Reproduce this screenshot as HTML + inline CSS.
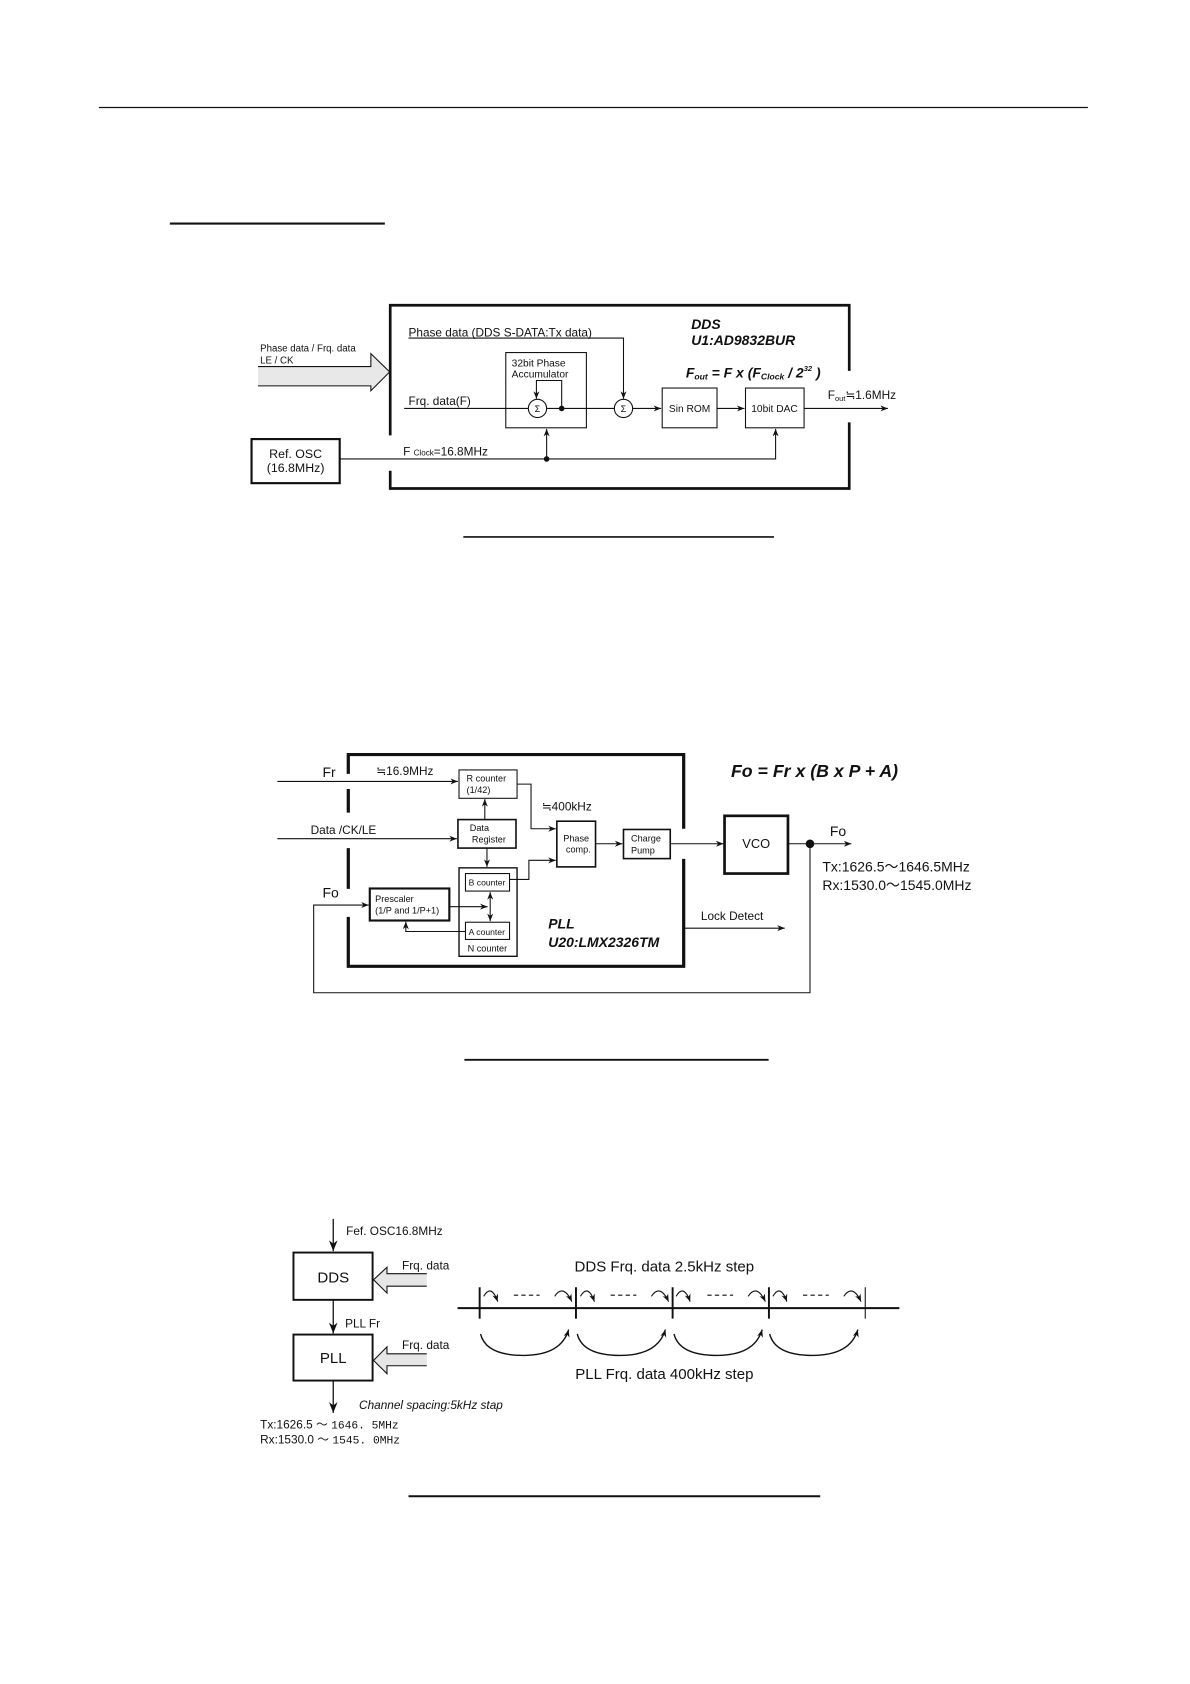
<!DOCTYPE html>
<html><head><meta charset="utf-8"><style>
html,body{margin:0;padding:0;background:#fff}
svg{display:block}
text{font-family:"Liberation Sans",Arial,sans-serif;fill:#111}
.bi{font-weight:bold;font-style:italic}
</style></head><body>
<svg width="1190" height="1684" viewBox="0 0 1107 1566.7" preserveAspectRatio="none" xmlns="http://www.w3.org/2000/svg">
<defs>
<marker id="a" viewBox="0 0 10 10" refX="10" refY="5" markerWidth="7" markerHeight="7" orient="auto-start-reverse" markerUnits="userSpaceOnUse"><path d="M0,1 L10,5 L0,9 L3,5 z" fill="#111"/></marker>
<marker id="b" viewBox="0 0 10 10" refX="10" refY="5" markerWidth="10" markerHeight="10" orient="auto-start-reverse" markerUnits="userSpaceOnUse"><path d="M0,1 L10,5 L0,9 L3,5 z" fill="#111"/></marker>
</defs>
<g stroke="#111" fill="none">
<line x1="92" y1="100" x2="1012" y2="100" stroke-width="1.2"/>
<line x1="158" y1="208" x2="358" y2="208" stroke-width="2"/>
<line x1="431" y1="499.5" x2="720" y2="499.5" stroke-width="1.5"/>
<line x1="432" y1="986" x2="715" y2="986" stroke-width="1.8"/>
<line x1="380" y1="1392" x2="763" y2="1392" stroke-width="1.8"/>
</g>

<!-- DDS diagram -->
<g stroke="#111" fill="none" stroke-width="1">
<path d="M363,405 V284 H790 V345 M790,393 V454.5 H363 V438" stroke-width="2.5"/>
<path d="M240,341 H345 V329 L362.5,346 L345,363.5 V359 H240" fill="#e8e8e8" stroke-width="1"/>
<rect x="234" y="408.5" width="82" height="41" stroke-width="2"/>
<rect x="470.5" y="328" width="75" height="70"/>
<rect x="616" y="361" width="51" height="37"/>
<rect x="693.5" y="361" width="54.5" height="37"/>
<circle cx="500" cy="380" r="8.5"/>
<circle cx="580" cy="380" r="8.5"/>
<path d="M376,380 H491.5 M508.5,380 H571.5"/>
<line x1="588.5" y1="380" x2="615" y2="380" marker-end="url(#a)"/>
<line x1="667" y1="380" x2="692.5" y2="380" marker-end="url(#a)"/>
<line x1="748" y1="380" x2="826" y2="380" marker-end="url(#a)"/>
<path d="M522.5,380 V354 H499 V371" marker-end="url(#a)"/>
<path d="M380,314.5 H580 V371" marker-end="url(#a)"/>
<path d="M316,427 H721.5 V399" marker-end="url(#a)"/>
<line x1="508.5" y1="427" x2="508.5" y2="399" marker-end="url(#a)"/>
</g>
<circle cx="522.5" cy="380" r="2.6" fill="#111"/>
<circle cx="508.5" cy="427" r="2.6" fill="#111"/>
<g font-size="10">
<text x="242" y="327" font-size="9">Phase data / Frq. data</text>
<text x="242" y="338" font-size="9">LE / CK</text>
<text x="380" y="313" font-size="11">Phase data (DDS S-DATA:Tx data)</text>
<text x="380" y="377" font-size="11">Frq. data(F)</text>
<text x="476" y="341" font-size="9.5">32bit Phase</text>
<text x="476" y="351" font-size="9.5">Accumulator</text>
<text x="500" y="383.5" font-size="8.5" text-anchor="middle">Σ</text>
<text x="580" y="383.5" font-size="8.5" text-anchor="middle">Σ</text>
<text x="641.5" y="383.5" font-size="9.5" text-anchor="middle">Sin ROM</text>
<text x="720.5" y="383.5" font-size="9.5" text-anchor="middle">10bit DAC</text>
<text x="770" y="371" font-size="11">F<tspan font-size="7" dy="2">out</tspan><tspan dy="-2">≒1.6MHz</tspan></text>
<text x="375" y="424" font-size="11">F <tspan font-size="7.5">Clock</tspan>=16.8MHz</text>
<text x="275" y="426" font-size="11.5" text-anchor="middle">Ref. OSC</text>
<text x="275" y="439" font-size="11.5" text-anchor="middle">(16.8MHz)</text>
<text x="643" y="306" font-size="13" class="bi">DDS</text>
<text x="643" y="321" font-size="13" class="bi">U1:AD9832BUR</text>
<text x="638" y="351" font-size="13" class="bi">F<tspan font-size="8" dy="2">out</tspan><tspan dy="-2"> = F x (F</tspan><tspan font-size="8" dy="2">Clock</tspan><tspan dy="-2"> / 2</tspan><tspan font-size="7" dy="-6">32</tspan><tspan dy="6">  )</tspan></text>
</g>

<!-- PLL diagram -->
<g transform="translate(0,4)">
<g stroke="#111" fill="none" stroke-width="1">
<path d="M324,716 V698 H636 V767 M636,795 V895 H324 V849 M324,823 V785 M324,752 V730" stroke-width="3"/>
<rect x="427" y="712.3" width="54" height="26.4"/>
<rect x="426" y="758.5" width="54" height="26.5" stroke-width="1.5"/>
<rect x="427" y="803.4" width="54" height="82.3" stroke-width="1.3"/>
<rect x="433" y="808.7" width="41" height="16.3"/>
<rect x="433" y="854" width="41" height="16"/>
<rect x="518" y="760" width="36" height="42.5" stroke-width="1.5"/>
<rect x="580" y="767.7" width="43.5" height="27.1" stroke-width="1.5"/>
<rect x="674" y="755" width="59" height="53.7" stroke-width="2.5"/>
<rect x="344" y="822.6" width="74" height="29.8" stroke-width="2"/>
<line x1="258" y1="723" x2="426" y2="723" marker-end="url(#a)"/>
<line x1="258" y1="776.3" x2="425" y2="776.3" marker-end="url(#a)"/>
<path d="M481,725.5 H494 V767 H517" marker-end="url(#a)"/>
<path d="M474,814.2 H492 V796.4 H517" marker-end="url(#a)"/>
<line x1="451" y1="758.5" x2="451" y2="739.5" marker-end="url(#a)"/>
<line x1="453" y1="785" x2="453" y2="802.5" marker-end="url(#a)"/>
<line x1="554" y1="781" x2="579" y2="781" marker-end="url(#a)"/>
<line x1="623.5" y1="781" x2="673" y2="781" marker-end="url(#a)"/>
<line x1="733" y1="781" x2="792" y2="781" marker-end="url(#a)"/>
<path d="M753.5,781 V919.6 H291.8 V838 H343" marker-end="url(#a)"/>
<line x1="418" y1="839.5" x2="453.6" y2="839.5" marker-end="url(#a)"/>
<line x1="456" y1="826" x2="456" y2="853" marker-end="url(#a)" marker-start="url(#a)"/>
<path d="M433,862.6 H377.5 V853.5" marker-end="url(#a)"/>
<line x1="637" y1="859.5" x2="730" y2="859.5" marker-end="url(#a)"/>
</g>
<circle cx="753.5" cy="781" r="4" fill="#111"/>
<text x="300" y="719" font-size="13">Fr</text>
<text x="350" y="717" font-size="11">≒16.9MHz</text>
<text x="289" y="772" font-size="11">Data /CK/LE</text>
<text x="300" y="831" font-size="13">Fo</text>
<text x="434" y="723" font-size="8.5">R counter</text>
<text x="434" y="734" font-size="8.5">(1/42)</text>
<text x="504" y="750" font-size="11">≒400kHz</text>
<text x="437" y="769" font-size="8.5">Data</text>
<text x="439" y="780" font-size="8.5">Register</text>
<text x="436" y="820" font-size="8">B counter</text>
<text x="436" y="866" font-size="8">A counter</text>
<text x="435" y="881" font-size="8.5">N counter</text>
<text x="349" y="835" font-size="8.5">Prescaler</text>
<text x="349" y="846" font-size="8.5">(1/P and 1/P+1)</text>
<text x="536" y="779" font-size="8.5" text-anchor="middle">Phase</text>
<text x="538" y="789" font-size="8.5" text-anchor="middle">comp.</text>
<text x="587" y="779" font-size="8.5">Charge</text>
<text x="587" y="790" font-size="8.5">Pump</text>
<text x="703.5" y="785" font-size="12" text-anchor="middle">VCO</text>
<text x="772" y="774" font-size="13">Fo</text>
<text x="765" y="807" font-size="13">Tx:1626.5～1646.5MHz</text>
<text x="765" y="824" font-size="13">Rx:1530.0～1545.0MHz</text>
<text x="652" y="852" font-size="11">Lock Detect</text>
<text x="510" y="860" font-size="13" class="bi">PLL</text>
<text x="510" y="877" font-size="13" class="bi">U20:LMX2326TM</text>
<text x="680" y="719" font-size="16.5" class="bi">Fo = Fr x (B x P + A)</text>
</g>

<!-- Bottom diagram -->
<g transform="translate(0,7)">
<g stroke="#111" fill="none" stroke-width="1.2">
<line x1="310" y1="1127" x2="310" y2="1157" marker-end="url(#b)"/>
<rect x="273" y="1158.3" width="73.6" height="44" stroke-width="1.8"/>
<line x1="310" y1="1202.5" x2="310" y2="1233.5" marker-end="url(#b)"/>
<rect x="273" y="1234.6" width="73.6" height="42.8" stroke-width="1.8"/>
<line x1="310" y1="1277.5" x2="310" y2="1307.5" marker-end="url(#b)"/>
<path d="M397,1178 H360 V1172 L347.5,1183.6 L360,1196 V1189.6 H397" fill="#e6e6e6" stroke-width="1"/>
<path d="M397,1252.5 H360 V1246 L347.5,1258.6 L360,1271 V1263.6 H397" fill="#e6e6e6" stroke-width="1"/>
<line x1="425.6" y1="1210" x2="836.6" y2="1210" stroke-width="1.8"/>
<g stroke-width="1.8">
<line x1="446.2" y1="1190.6" x2="446.2" y2="1219.8"/>
<line x1="535.8" y1="1190.6" x2="535.8" y2="1219.8"/>
<line x1="625.7" y1="1190.6" x2="625.7" y2="1219.8"/>
<line x1="715.3" y1="1190.6" x2="715.3" y2="1219.8"/>
</g>
<line x1="804.9" y1="1190.6" x2="804.9" y2="1219.8" stroke-width="1"/>
<g stroke-width="1">
<path d="M450,1199 Q457,1187 463,1204" marker-end="url(#a)"/>
<path d="M516,1199 Q524,1187 532,1204" marker-end="url(#a)"/>
<path d="M540,1199 Q547,1187 553,1204" marker-end="url(#a)"/>
<path d="M606,1199 Q614,1187 622,1204" marker-end="url(#a)"/>
<path d="M629,1199 Q636,1187 642,1204" marker-end="url(#a)"/>
<path d="M696,1199 Q704,1187 712,1204" marker-end="url(#a)"/>
<path d="M719,1199 Q726,1187 732,1204" marker-end="url(#a)"/>
<path d="M785,1199 Q793,1187 801,1204" marker-end="url(#a)"/>
<path d="M478,1198 H502 M568,1198 H592 M658,1198 H682 M747,1198 H771" stroke-dasharray="4,3"/>
</g>
<g stroke-width="1.3">
<path d="M447,1234 Q452,1254 487,1254 Q522,1254 529,1230" marker-end="url(#a)"/>
<path d="M537,1234 Q542,1254 577,1254 Q612,1254 619,1230" marker-end="url(#a)"/>
<path d="M627,1234 Q632,1254 667,1254 Q702,1254 709,1230" marker-end="url(#a)"/>
<path d="M716,1234 Q721,1254 756,1254 Q791,1254 798,1230" marker-end="url(#a)"/>
</g>
</g>
<text x="322" y="1142" font-size="11">Fef. OSC16.8MHz</text>
<text x="310" y="1186" font-size="14" text-anchor="middle">DDS</text>
<text x="374" y="1174" font-size="11">Frq. data</text>
<text x="321" y="1228" font-size="11">PLL Fr</text>
<text x="310" y="1261" font-size="14" text-anchor="middle">PLL</text>
<text x="374" y="1248" font-size="11">Frq. data</text>
<text x="334" y="1304" font-size="11" font-style="italic">Channel spacing:5kHz stap</text>
<text x="242" y="1322" font-size="11">Tx:1626.5 ～ <tspan font-family="Liberation Mono" font-size="10.5">1646. 5MHz</tspan></text>
<text x="242" y="1336" font-size="11">Rx:1530.0 ～ <tspan font-family="Liberation Mono" font-size="10.5">1545. 0MHz</tspan></text>
<text x="618" y="1176" font-size="14" text-anchor="middle">DDS Frq. data 2.5kHz step</text>
<text x="618" y="1276" font-size="14" text-anchor="middle">PLL Frq. data 400kHz step</text>
</g>
</svg>
</body></html>
